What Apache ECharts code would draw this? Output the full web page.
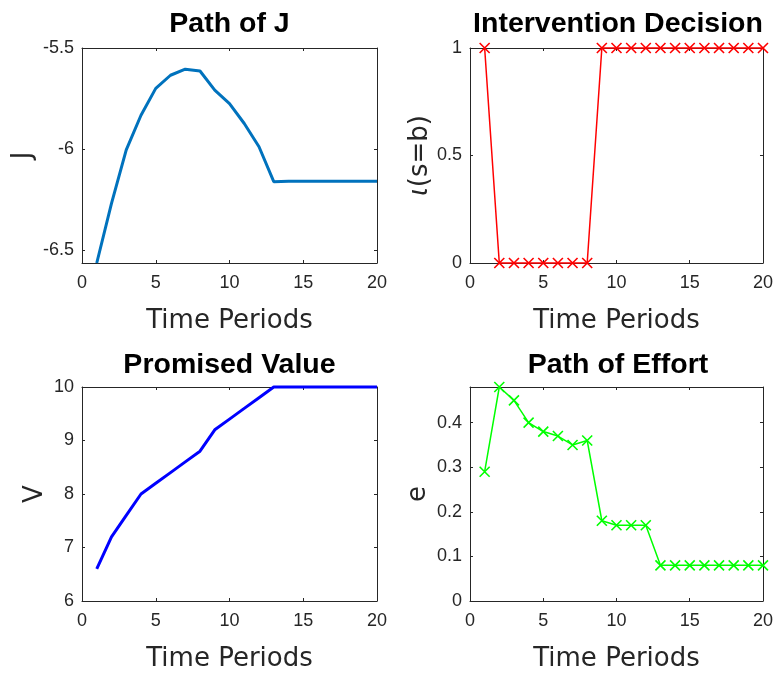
<!DOCTYPE html>
<html>
<head>
<meta charset="utf-8">
<script src="https://cdn.jsdelivr.net/npm/echarts@6/dist/echarts.min.js"></script>
<style>
  html, body { margin: 0; padding: 0; background: #fff; }
  #main { width: 776px; height: 673px; }
</style>
</head>
<body>
<div id="main"></div>
<script>
// data
var periods = [1, 2, 3, 4, 5, 6, 7, 8, 9, 10, 11, 12, 13, 14, 15, 16, 17, 18, 19, 20];
var jPath = [-6.565, -6.27, -6.005, -5.833, -5.70, -5.635, -5.605, -5.614, -5.709, -5.775,
             -5.874, -5.989, -6.162, -6.16, -6.16, -6.16, -6.16, -6.16, -6.16, -6.16];
var intervention = [1, 0, 0, 0, 0, 0, 0, 0, 1, 1, 1, 1, 1, 1, 1, 1, 1, 1, 1, 1];
var promised = [6.6, 7.2, 7.6, 8.0, 8.2, 8.4, 8.6, 8.8, 9.2, 9.4, 9.6, 9.8, 10, 10, 10, 10, 10, 10, 10, 10];
var effort = [0.29, 0.48, 0.45, 0.40, 0.38, 0.37, 0.35, 0.36, 0.18, 0.17, 0.17, 0.17,
              0.08, 0.08, 0.08, 0.08, 0.08, 0.08, 0.08, 0.08];

var xTicks = [0, 5, 10, 15, 20];
var jTicks = [-6.5, -6, -5.5];
var iTicks = [0, 0.5, 1];
var vTicks = [6, 7, 8, 9, 10];
var eTicks = [0, 0.1, 0.2, 0.3, 0.4];

var titles = ['Path of J', 'Intervention Decision', 'Promised Value', 'Path of Effort'];

var FONT = '"DejaVu Sans", "Liberation Sans", Arial, sans-serif';
var TFONT = '"Liberation Sans", Arial, sans-serif';
var AX = '#262626';

function pairs(ys) {
  return periods.map(function (p, i) { return [p, ys[i]]; });
}

var grids = [
  {left: 82, top: 48, width: 295, height: 215},
  {left: 470, top: 48, width: 296, height: 215},
  {left: 82, top: 387, width: 295, height: 215},
  {left: 470, top: 387, width: 296, height: 215}
];

function xAxisFor(g, pos) {
  var main = pos === 'bottom';
  return {
    type: 'value', gridIndex: g, position: pos,
    min: 0, max: 20, interval: 5,
    name: main ? 'Time Periods' : '',
    nameLocation: 'middle', nameGap: 45,
    nameTextStyle: {fontFamily: FONT, fontSize: 26, color: AX},
    axisLine: {show: true, onZero: false, lineStyle: {color: AX, width: 1}},
    axisTick: {show: true, inside: true, length: 3, lineStyle: {color: AX}, customValues: xTicks},
    axisLabel: {show: main, margin: 11, fontFamily: TFONT, fontSize: 18, color: AX, customValues: xTicks},
    splitLine: {show: false}
  };
}

function yAxisFor(g, pos, min, max, ticks, name, gap, rich) {
  var main = pos === 'left';
  return {
    type: 'value', gridIndex: g, position: pos,
    min: min, max: max,
    name: main ? name : '',
    nameLocation: 'middle', nameGap: gap,
    nameTextStyle: {fontFamily: FONT, fontSize: 26, color: AX, rich: rich || {}},
    axisLine: {show: true, onZero: false, lineStyle: {color: AX, width: 1}},
    axisTick: {show: true, inside: true, length: 3, lineStyle: {color: AX}, customValues: ticks},
    axisLabel: {show: main, margin: 8, fontFamily: TFONT, fontSize: 18, color: AX, customValues: ticks},
    splitLine: {show: false}
  };
}

var iotaRich = {i: {fontFamily: FONT, fontSize: 26, fontStyle: 'italic', color: AX}};

var xAxes = [], yAxes = [];
for (var g = 0; g < 4; g++) xAxes.push(xAxisFor(g, 'bottom'));
for (var g2 = 0; g2 < 4; g2++) xAxes.push(xAxisFor(g2, 'top'));

yAxes.push(yAxisFor(0, 'left', -6.565, -5.5, jTicks, 'J', 46));
yAxes.push(yAxisFor(1, 'left', 0, 1, iTicks, '{i|ι}(s=b)', 37, iotaRich));
yAxes.push(yAxisFor(2, 'left', 6, 10, vTicks, 'V', 34));
yAxes.push(yAxisFor(3, 'left', 0, 0.48, eTicks, 'e', 39));
yAxes.push(yAxisFor(0, 'right', -6.565, -5.5, jTicks));
yAxes.push(yAxisFor(1, 'right', 0, 1, iTicks));
yAxes.push(yAxisFor(2, 'right', 6, 10, vTicks));
yAxes.push(yAxisFor(3, 'right', 0, 0.48, eTicks));

var cross = 'path://M0,0L10,10M10,0L0,10';

var titleText = titles.map(function (t, i) {
  var gr = grids[i];
  return {
    type: 'text',
    x: gr.left + gr.width / 2,
    y: i < 2 ? 24 : 365.5,
    style: {
      text: t, align: 'center', verticalAlign: 'middle',
      font: 'bold 28.5px ' + TFONT, fill: '#000'
    }
  };
});

var option = {
  animation: false,
  backgroundColor: '#fff',
  grid: grids,
  xAxis: xAxes,
  yAxis: yAxes,
  graphic: titleText,
  series: [
    {
      type: 'line', xAxisIndex: 0, yAxisIndex: 0,
      data: pairs(jPath), showSymbol: false, symbol: 'none',
      lineStyle: {color: '#0072BD', width: 3}
    },
    {
      type: 'line', xAxisIndex: 1, yAxisIndex: 1,
      data: pairs(intervention), symbol: cross, symbolSize: 10, clip: false,
      lineStyle: {color: '#FF0000', width: 1.5},
      itemStyle: {color: 'none', borderColor: '#FF0000', borderWidth: 1.6}
    },
    {
      type: 'line', xAxisIndex: 2, yAxisIndex: 2,
      data: pairs(promised), showSymbol: false, symbol: 'none', clip: false,
      lineStyle: {color: '#0000FF', width: 3}
    },
    {
      type: 'line', xAxisIndex: 3, yAxisIndex: 3,
      data: pairs(effort), symbol: cross, symbolSize: 10, clip: false,
      lineStyle: {color: '#00FF00', width: 1.5},
      itemStyle: {color: 'none', borderColor: '#00FF00', borderWidth: 1.6}
    }
  ]
};

var chart = echarts.init(document.getElementById('main'), null, {renderer: 'canvas'});
chart.setOption(option);
</script>
</body>
</html>
